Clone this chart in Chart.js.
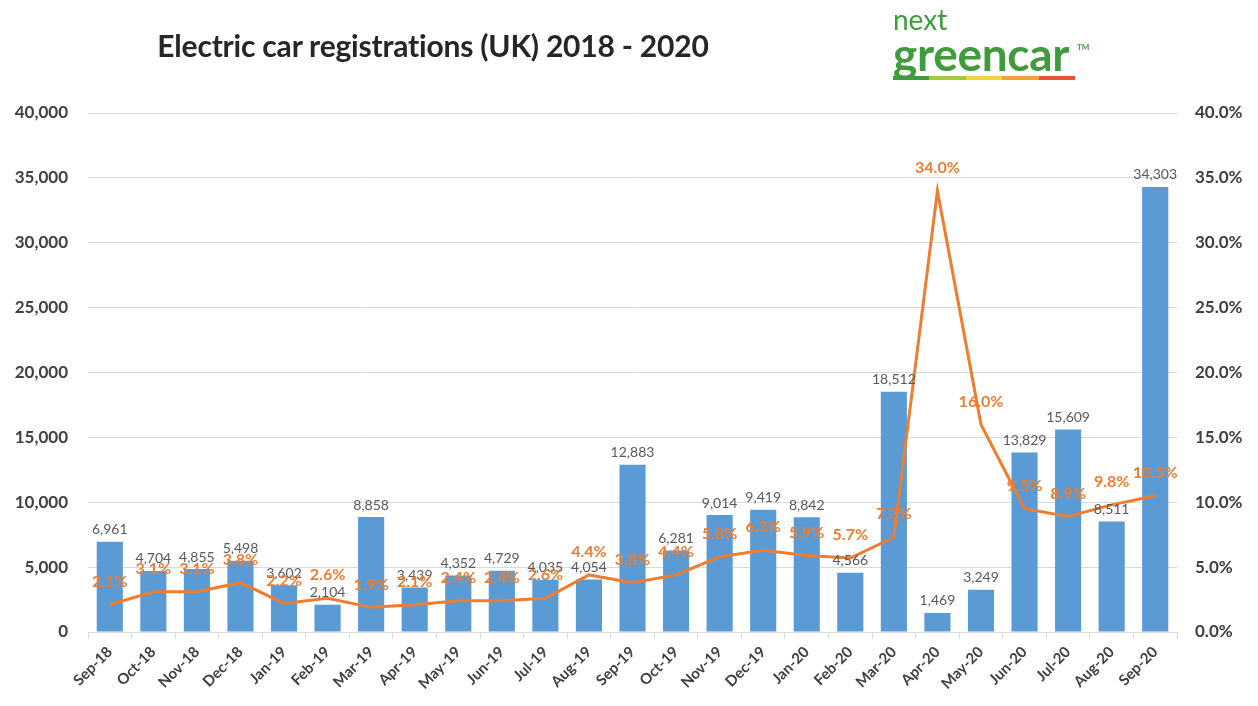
<!DOCTYPE html>
<html>
<head>
<meta charset="utf-8">
<title>Electric car registrations (UK) 2018 - 2020</title>
<script src="https://cdn.jsdelivr.net/npm/chart.js@4"></script>
<style>
  body { margin: 0; background: #fff; }
  #wrap { position: relative; width: 1258px; height: 706px; }
  #title { position: absolute; left: 0; width: 866px; top: 27px; text-align: center;
    font: bold 30px Lato, sans-serif; color: #262626; letter-spacing: -0.2px; }
  #logo { position: absolute; left: 893px; top: 4px; color: #3f9b3c; font-family: Lato, sans-serif; }
  #logo .next { font-size: 28px; line-height: 30px; }
  #logo .green { font-size: 46px; font-weight: bold; line-height: 40px; letter-spacing: -0.3px; }
  #logo .tm { position: absolute; left: 184px; top: 38px; font-size: 8px; font-weight: bold; }
  #logo .stripe { display: flex; width: 182px; height: 4px; margin-top: 2px; }
  #logo .stripe span { flex: 1; }
  canvas { position: absolute; left: 0; top: 0; }
</style>
</head>
<body>
<div id="wrap">
  <canvas id="chart" width="1258" height="706"></canvas>
  <div id="title">Electric car registrations (UK) 2018 - 2020</div>
  <div id="logo">
    <div class="next">next</div>
    <div class="green">greencar</div>
    <div class="tm">TM</div>
    <div class="stripe"><span style="background:#3f9b3c"></span><span style="background:#a6c83c"></span><span style="background:#f2d23a"></span><span style="background:#f0a23a"></span><span style="background:#e8503a"></span></div>
  </div>
</div>
<script>
'use strict';

var months = ['Sep-18', 'Oct-18', 'Nov-18', 'Dec-18', 'Jan-19', 'Feb-19', 'Mar-19', 'Apr-19', 'May-19', 'Jun-19', 'Jul-19', 'Aug-19', 'Sep-19', 'Oct-19', 'Nov-19', 'Dec-19', 'Jan-20', 'Feb-20', 'Mar-20', 'Apr-20', 'May-20', 'Jun-20', 'Jul-20', 'Aug-20', 'Sep-20'];
var registrations = [6961, 4704, 4855, 5498, 3602, 2104, 8858, 3439, 4352, 4729, 4035, 4054, 12883, 6281, 9014, 9419, 8842, 4566, 18512, 1469, 3249, 13829, 15609, 8511, 34303];
var marketShare = [2.1, 3.1, 3.1, 3.8, 2.2, 2.6, 1.9, 2.1, 2.4, 2.4, 2.6, 4.4, 3.8, 4.4, 5.8, 6.3, 5.9, 5.7, 7.3, 34.0, 16.0, 9.5, 8.9, 9.8, 10.5];

var blue = '#5b9bd5';
var orange = '#ed7d31';
var gridColor = '#d9d9d9';
var tickFont = { family: 'Lato', size: 17, weight: 'bold' };

// draws the numbers above the bars and the line
var valueLabels = {
  id: 'valueLabels',
  afterDatasetsDraw: function(chart) {
    var ctx = chart.ctx;
    ctx.save();
    ctx.textAlign = 'center';
    ctx.textBaseline = 'bottom';

    var bars = chart.getDatasetMeta(0).data;
    ctx.font = '14px Lato';
    ctx.fillStyle = '#595959';
    for (var i = 0; i < bars.length; i++) {
      ctx.fillText(registrations[i].toLocaleString('en-GB'), bars[i].x, bars[i].y - 5);
    }

    var points = chart.getDatasetMeta(1).data;
    ctx.font = 'bold 16px Lato';
    ctx.fillStyle = orange;
    for (var j = 0; j < points.length; j++) {
      ctx.fillText(marketShare[j].toFixed(1) + '%', points[j].x, points[j].y - 15);
    }
    ctx.restore();
  }
};

var ctx = document.getElementById('chart').getContext('2d');

var chart = new Chart(ctx, {
  data: {
    labels: months,
    datasets: [
      {
        type: 'bar',
        label: 'Registrations',
        data: registrations,
        yAxisID: 'y',
        backgroundColor: blue,
        categoryPercentage: 1,
        barPercentage: 0.6,
        order: 1
      },
      {
        type: 'line',
        label: 'Market share',
        data: marketShare,
        yAxisID: 'y1',
        borderColor: orange,
        borderWidth: 3,
        pointRadius: 0,
        tension: 0,
        order: 0
      }
    ]
  },
  options: {
    responsive: false,
    animation: false,
    layout: { padding: { top: 113, left: 0, right: 0, bottom: 0 } },
    plugins: {
      legend: { display: false },
      tooltip: { enabled: false }
    },
    scales: {
      x: {
        offset: true,
        grid: { offset: true, drawOnChartArea: false, drawTicks: true, tickLength: 7, color: gridColor },
        border: { color: gridColor },
        ticks: { maxRotation: 45, minRotation: 45, color: '#404040', font: { family: 'Lato', size: 15, weight: 'bold' }, padding: 4 },
        afterFit: function(scale) { scale.height = 706 - 632; }
      },
      y: {
        position: 'left',
        min: 0,
        max: 40000,
        ticks: {
          stepSize: 5000,
          color: '#404040',
          font: tickFont,
          padding: 20,
          callback: function(v) { return v.toLocaleString('en-GB'); }
        },
        grid: { color: gridColor, drawTicks: false },
        border: { display: false },
        afterFit: function(scale) { scale.width = 88; }
      },
      y1: {
        position: 'right',
        min: 0,
        max: 40,
        ticks: {
          stepSize: 5,
          color: '#404040',
          font: tickFont,
          padding: 18,
          callback: function(v) { return v.toFixed(1) + '%'; }
        },
        grid: { drawOnChartArea: false, drawTicks: false },
        border: { display: false },
        afterFit: function(scale) { scale.width = 81; }
      }
    }
  },
  plugins: [valueLabels]
});
</script>
</body>
</html>
